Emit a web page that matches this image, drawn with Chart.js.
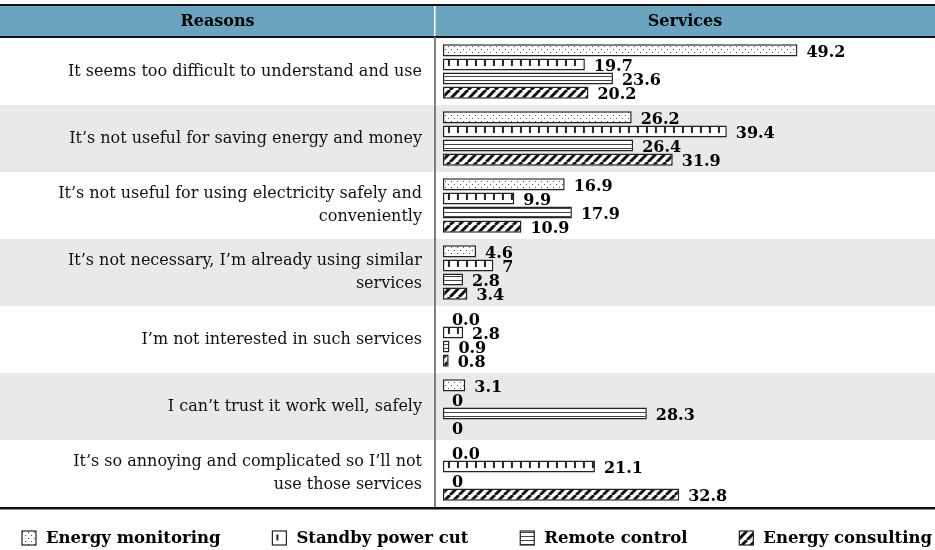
<!DOCTYPE html>
<html>
<head>
<meta charset="utf-8">
<script src="https://cdn.jsdelivr.net/npm/chart.js@4.4.0/dist/chart.umd.min.js"></script>
<style>
  html, body { margin: 0; padding: 0; background: #fff; }
  #wrap { width: 935px; height: 550px; }
</style>
</head>
<body>
<div id="wrap"><canvas id="chart"></canvas></div>
<script>
// categories (rows of the table)
const reasons = [
  'It seems too difficult to understand and use',
  'It\u2019s not useful for saving energy and money',
  ['It\u2019s not useful for using electricity safely and', 'conveniently'],
  ['It\u2019s not necessary, I\u2019m already using similar', 'services'],
  'I\u2019m not interested in such services',
  'I can\u2019t trust it work well, safely',
  ['It\u2019s so annoying and complicated so I\u2019ll not', 'use those services']
];
const seriesNames = ['Energy monitoring', 'Standby power cut', 'Remote control', 'Energy consulting'];

// values (%)
const energyMonitoring = [49.2, 26.2, 16.9, 4.6, 0, 3.1, 0];
const standbyPowerCut  = [19.7, 39.4, 9.9, 7, 2.8, 0, 21.1];
const remoteControl    = [23.6, 26.4, 17.9, 2.8, 0.9, 28.3, 0];
const energyConsulting = [20.2, 31.9, 10.9, 3.4, 0.8, 0, 32.8];

// value labels as printed
const monitoringText = ['49.2', '26.2', '16.9', '4.6', '0.0', '3.1', '0.0'];
const standbyText    = ['19.7', '39.4', '9.9', '7', '2.8', '0', '21.1'];
const remoteText     = ['23.6', '26.4', '17.9', '2.8', '0.9', '28.3', '0'];
const consultingText = ['20.2', '31.9', '10.9', '3.4', '0.8', '0', '32.8'];

const headerLeft = 'Reasons';
const headerRight = 'Services';

const SERIF = '"DejaVu Serif", "Liberation Serif", serif';

function makePattern(kind) {
  const c = document.createElement('canvas');
  const p = c.getContext('2d');
  if (kind === 'dots') {
    c.width = 6; c.height = 6;
    p.fillStyle = '#fff'; p.fillRect(0, 0, 6, 6);
    p.fillStyle = '#555';
    p.fillRect(1, 1, 1, 1);
    p.fillRect(4, 4, 1, 1);
  } else if (kind === 'hlines') {
    c.width = 1; c.height = 4;
    p.fillStyle = '#fff'; p.fillRect(0, 0, 1, 4);
    p.fillStyle = '#444';
    p.fillRect(0, 0, 1, 1);
  } else if (kind === 'diag') {
    c.width = 9; c.height = 9;
    p.fillStyle = '#fff'; p.fillRect(0, 0, 9, 9);
    p.strokeStyle = '#111';
    p.lineWidth = 3;
    for (let k = -1; k <= 1; k++) {
      p.beginPath();
      p.moveTo(k * 9, 9);
      p.lineTo(k * 9 + 9, 0);
      p.stroke();
    }
  } else {
    return '#fff';
  }
  return p.createPattern(c, 'repeat');
}

// short "ruler" ticks for the standby series, clipped to each bar
function drawTicks(ctx, left, top, right, h) {
  ctx.fillStyle = '#222';
  for (let x = left + 5; x < right - 2; x += 9) {
    ctx.fillRect(x, top + 1.5, 2, h * 0.5);
  }
}

const tablePlugin = {
  id: 'tableDecor',
  beforeDraw(chart) {
    const { ctx, chartArea: a, scales: { y } } = chart;
    const W = chart.width;
    const rowH = (a.bottom - a.top) / reasons.length;
    ctx.save();
    reasons.forEach((r, i) => {
      if (i % 2 === 1) {
        const cy = y.getPixelForValue(i);
        ctx.fillStyle = '#e9e9eb';
        ctx.fillRect(0, cy - rowH / 2, W, rowH);
      }
    });
    // header band
    ctx.fillStyle = '#6aa4bf';
    ctx.fillRect(0, 5, W, a.top - 5);
    ctx.fillStyle = '#111';
    ctx.fillRect(0, 4, W, 2);
    ctx.fillRect(0, a.top - 2, W, 2);
    ctx.fillStyle = '#fff';
    ctx.fillRect(a.left - 1, 6, 1.5, a.top - 8);
    ctx.fillStyle = '#000';
    ctx.font = 'bold 16px ' + SERIF;
    ctx.textAlign = 'center';
    ctx.textBaseline = 'middle';
    ctx.fillText(headerLeft, a.left / 2, (a.top + 6) / 2);
    ctx.fillText(headerRight, (a.left + W) / 2, (a.top + 6) / 2);
    ctx.restore();
  },
  afterDatasetsDraw(chart) {
    const ctx = chart.ctx;
    ctx.save();
    chart.getDatasetMeta(1).data.forEach(bar => {
      const { x, y, base, height } = bar.getProps(['x', 'y', 'base', 'height'], true);
      if (x - base > 3) drawTicks(ctx, base, y - height / 2, x, height);
    });
    ctx.restore();
  },
  afterDraw(chart) {
    const { ctx, chartArea: a } = chart;
    const W = chart.width;
    ctx.save();
    // value labels
    ctx.font = 'bold 16px ' + SERIF;
    ctx.fillStyle = '#000';
    ctx.textAlign = 'left';
    ctx.textBaseline = 'middle';
    chart.data.datasets.forEach((ds, di) => {
      chart.getDatasetMeta(di).data.forEach((bar, i) => {
        ctx.fillText(ds.valueText[i], bar.x + 9, bar.y + 2);
      });
    });
    // bottom rule
    ctx.fillStyle = '#111';
    ctx.fillRect(0, a.bottom, W, 2.5);
    // legend
    ctx.font = 'bold 16.5px ' + SERIF;
    const box = 14, gapText = 10;
    const widths = chart.data.datasets.map(ds => box + gapText + ctx.measureText(ds.label).width);
    const x0 = 22, x1 = 932;
    const gap = (x1 - x0 - widths.reduce((s, w) => s + w, 0)) / (widths.length - 1);
    let x = x0;
    const ly = 538;
    chart.data.datasets.forEach((ds, di) => {
      ctx.fillStyle = ds.backgroundColor;
      ctx.fillRect(x, ly - box / 2, box, box);
      if (di === 1) drawTicks(ctx, x - 1, ly - box / 2 + 2, x + box, box - 2);
      ctx.strokeStyle = '#222';
      ctx.lineWidth = 1.2;
      ctx.strokeRect(x, ly - box / 2, box, box);
      ctx.fillStyle = '#000';
      ctx.fillText(ds.label, x + box + gapText, ly + 1);
      x += widths[di] + gap;
    });
    ctx.restore();
  }
};

const seriesValues = [energyMonitoring, standbyPowerCut, remoteControl, energyConsulting];
const seriesTexts = [monitoringText, standbyText, remoteText, consultingText];
const patterns = ['dots', 'ruler', 'hlines', 'diag'];

new Chart(document.getElementById('chart'), {
  type: 'bar',
  data: {
    labels: reasons,
    datasets: seriesNames.map((name, k) => ({
      label: name,
      data: seriesValues[k],
      valueText: seriesTexts[k],
      backgroundColor: makePattern(patterns[k]),
      borderColor: '#222',
      borderWidth: 1.5,
      borderSkipped: false,
      categoryPercentage: 0.84,
      barPercentage: 0.86
    }))
  },
  options: {
    indexAxis: 'y',
    responsive: true,
    maintainAspectRatio: false,
    animation: false,
    layout: { padding: { top: 38, bottom: 43, left: 0, right: 0 } },
    plugins: {
      legend: { display: false },
      tooltip: { enabled: false }
    },
    scales: {
      x: {
        display: false,
        min: -1.1,
        max: 68.3
      },
      y: {
        afterFit(scale) { scale.width = 435; },
        grid: { display: false, drawTicks: false },
        border: { display: true, color: '#808080', width: 2 },
        ticks: {
          color: '#111',
          padding: 13,
          font: { family: SERIF, size: 16, lineHeight: 1.42 }
        }
      }
    }
  },
  plugins: [tablePlugin]
});
</script>
</body>
</html>
